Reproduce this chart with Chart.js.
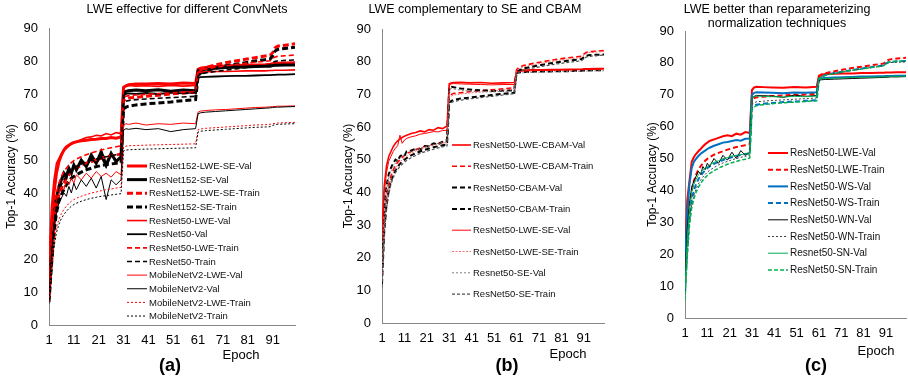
<!DOCTYPE html>
<html><head><meta charset="utf-8">
<script src="https://cdn.jsdelivr.net/npm/chart.js@4.4.1/dist/chart.umd.min.js"></script>
<style>
html,body{margin:0;padding:0;background:#fff;}
#wrap{position:relative;width:908px;height:378px;overflow:hidden;background:#fff;}
canvas{position:absolute;top:0;}
</style></head><body>
<div id="wrap">
<canvas id="ca" width="300" height="378" style="left:0px"></canvas>
<canvas id="cb" width="273" height="378" style="left:337px"></canvas>
<canvas id="cc" width="267" height="378" style="left:641px"></canvas>
</div>
<script>
// ---------- shared axes ----------
const EPOCHS = [1,2,3,4,5,6,7,8,9,10,11,12,14,16,18,20,22,24,26,28,30,
                31,32,33,36,40,45,50,55,60,
                61,62,64,68,72,76,80,84,88,90,
                91,92,93,96,100];
const X_TICKS = [1,11,21,31,41,51,61,71,81,91];
const Y_MIN = 0, Y_MAX = 90, Y_STEP = 10;

// ---------- panel (a) ----------
const A_TITLE = ['LWE effective for different ConvNets'];
const A_LABELS = ['ResNet152-LWE-SE-Val','ResNet152-SE-Val','ResNet152-LWE-SE-Train','ResNet152-SE-Train',
  'ResNet50-LWE-Val','ResNet50-Val','ResNet50-LWE-Train','ResNet50-Train',
  'MobileNetV2-LWE-Val','MobileNetV2-Val','MobileNetV2-LWE-Train','MobileNetV2-Train'];
const a_r152LweSeVal = [10,28,40,46,49.5,51.5,53,54,54.5,55,55.3,55.5,55.8,56,56.2,56.3,56.5,56.5,56.8,56.6,57,
  72,72.5,72.8,73,73,73.2,73,73.3,73.2,
  77.5,77.8,78,78.3,78.5,78.6,78.7,78.8,78.9,79,
  79.2,79.3,79.3,79.4,79.5];
const a_r152SeVal = [9,22,32,38,42,44,46,45,47.5,46,48.5,47,50,48,51.5,49,52.5,48.5,52,49.5,51,
  70,70.8,71,71.2,71,71.3,70.8,71.2,71,
  77,77.3,77.5,77.8,78,78.1,78.2,78.3,78.4,78.4,
  78.6,78.7,78.7,78.8,78.8];
const a_r152LweSeTrain = [8,20,30,36,39.5,41.5,43,44.5,45.5,46.5,47,47.5,48.5,49,49.5,50,50.5,51,51.2,51.5,51.8,
  68,68.5,68.8,69,69.3,69.6,70,70.3,70.5,
  76.5,77.3,78,78.8,79.5,80,80.5,81,81.5,81.7,
  82.5,84,84.5,84.8,85.2];
const a_r152SeTrain = [7,18,28,34,37.5,39.5,41,42.5,43.5,44.5,45,45.5,46.3,47,47.5,48,48.3,48.6,48.8,49,49.2,
  65.5,66,66.3,66.7,67,67.3,67.6,68,68.3,
  75.5,76.3,77,77.8,78.5,79,79.5,80,80.4,80.6,
  81.5,83,83.5,83.8,84.2];
const a_r50LweVal = [20,36,44,49,50.5,52,52.8,53.5,54.2,54.8,55.2,55.6,56.2,56.8,57,57.5,57.3,58,57.6,58.3,58,
  72,72.5,72.6,72.4,72.5,72.3,72.6,72.4,72.6,
  76.5,76.6,76.7,76.8,76.8,76.9,77,77,77,77.1,
  77.1,77.2,77.2,77.2,77.3];
const a_r50Val = [10,25,34,39,42,44,45.5,44.5,47,46,48.5,47,49.5,48,50.5,49,51,48,51.5,50,50.5,
  69.5,70,70.2,70,70.3,70,70.4,70.2,70.5,
  75,75.1,75.2,75.3,75.4,75.5,75.5,75.6,75.7,75.7,
  75.8,75.8,75.9,75.9,76];
const a_r50LweTrain = [9,25,35,40,43,45,46.5,47.5,48.5,49.2,49.8,50.3,51,51.6,52.1,52.6,53,53.4,53.7,54,54.3,
  69,69.3,69.5,69.7,69.9,70.1,70.3,70.5,70.7,
  76.5,77.2,77.6,78.1,78.5,78.9,79.3,79.6,79.9,80.1,
  80.8,81.2,81.4,81.6,81.8];
const a_r50Train = [8,22,32,37.5,40.5,42.5,44,45.2,46.2,47,47.6,48.1,48.8,49.4,49.9,50.3,50.7,51,51.3,51.6,51.8,
  67.5,67.8,68,68.3,68.5,68.7,68.9,69.1,69.3,
  75.5,76,76.4,76.8,77.2,77.6,78,78.3,78.6,78.8,
  79.5,79.9,80,80.2,80.3];
const a_mbLweVal = [11,27,34,38,40,42,41,43.5,42.5,44.5,43,45.5,44,46,44.5,46.5,45,46,44.8,46.5,45.5,
  60.5,61,60.8,61.2,60.6,61,60.8,61.2,61,
  64.5,64.8,65,65.2,65.3,65.5,65.7,65.9,66,66.1,
  66.2,66.2,66.3,66.3,66.4];
const a_mbVal = [8,22,30,34,37,38.5,40,39,42,40,43,41,44,42,44.5,41.5,45,38,44,42.5,44,
  59,59.5,59.3,59.6,59.2,59.5,58.6,59.2,59.5,
  64,64.3,64.5,64.7,64.9,65.1,65.3,65.5,65.7,65.8,
  65.9,66,66,66.1,66.2];
const a_mbLweTrain = [7,17,25,29.5,32,33.8,35,36,36.8,37.5,38,38.4,39,39.5,40,40.3,40.7,41,41.2,41.5,41.7,
  54,54.2,54.3,54.4,54.5,54.6,54.7,54.8,54.9,
  59.2,59.4,59.6,59.8,60,60.2,60.4,60.6,60.7,60.8,
  61,61.1,61.2,61.3,61.4];
const a_mbTrain = [6.5,16,23.5,28,30.5,32.3,33.5,34.5,35.3,36,36.5,36.9,37.5,38,38.4,38.7,39,39.2,39.4,39.6,39.8,
  52.8,53,53.1,53.2,53.3,53.4,53.5,53.6,53.7,
  58.5,58.7,58.9,59.1,59.3,59.5,59.7,59.9,60,60.1,
  60.5,60.7,60.8,60.9,61];

// ---------- panel (b) ----------
const B_TITLE = ['LWE complementary to SE and CBAM'];
const B_LABELS = ['ResNet50-LWE-CBAM-Val','ResNet50-LWE-CBAM-Train','ResNet50-CBAM-Val','ResNet50-CBAM-Train',
  'ResNet50-LWE-SE-Val','ResNet50-LWE-SE-Train','Resnet50-SE-Val','ResNet50-SE-Train'];
const b_lweCbamVal = [28,42,48,51,52.5,54,55,55.8,56.3,56.8,57.2,57.5,58,58.3,58.8,58.5,59.2,59,59.8,59.5,60.3,
  73.2,73.5,73.6,73.7,73.5,73.6,73.4,73.5,73.6,
  77,77.3,77.4,77.5,77.5,77.6,77.6,77.7,77.7,77.7,
  77.8,77.8,77.8,77.9,77.9];
const b_lweCbamTrain = [15,30,38,42.5,45,46.8,48.2,49.2,50,50.7,51.3,51.8,52.5,53.1,53.6,54,54.4,54.8,55.1,55.4,55.7,
  69.5,70,70.3,70.5,70.8,71.1,71.4,71.7,72,
  77.5,78.3,78.8,79.4,79.9,80.4,80.8,81.2,81.5,81.7,
  82.3,82.8,83,83.2,83.4];
const b_cbamVal = [18,35,42,45.5,47.5,49,50,49.5,51,51.5,51.2,52.5,52.8,53.3,53,54.2,54,55,54.6,55.5,56,
  72,72.3,72.2,71.8,71.5,71.2,71,71.1,71.3,
  76.5,76.7,76.8,76.9,77,77,77.1,77.1,77.2,77.2,
  77.3,77.3,77.3,77.4,77.4];
const b_cbamTrain = [12,28,36,40.5,43.5,45.3,46.8,47.8,48.7,49.4,50,50.5,51.3,52,52.5,53,53.4,53.8,54.1,54.4,54.7,
  67.5,68,68.3,68.7,69,69.4,69.8,70.2,70.5,
  76.5,77.3,77.9,78.5,79,79.5,79.9,80.3,80.6,80.8,
  81.3,81.8,82,82.1,82.2];
const b_lweSeVal = [25,40,46,49.5,51,52.5,53.5,54.3,57.5,55,56,56.5,57,57.3,57.8,58,58.3,58.6,58.5,58.9,59,
  73,73.2,73.3,73.2,73.1,73,72.9,73,73,
  76.8,77,77.1,77.2,77.3,77.3,77.4,77.4,77.5,77.5,
  77.5,77.6,77.6,77.6,77.7];
const b_lweSeTrain = [13,29,37,41.5,44,46,47.3,48.4,49.3,50,50.6,51.1,51.9,52.6,53.1,53.6,54,54.4,54.7,55,55.3,
  69,69.5,69.8,70.1,70.4,70.7,71,71.3,71.6,
  77,77.8,78.4,79,79.5,80,80.4,80.8,81.1,81.3,
  82,82.5,82.7,82.9,83.1];
const b_seVal = [16,33,41,44.5,46.5,48,49,50,50.5,51,51.5,52,52.5,53,53.5,53.8,54.3,54.6,55,55.2,55.5,
  71.5,71.8,71.6,71.3,71,70.8,70.7,70.9,71,
  76.3,76.5,76.6,76.7,76.8,76.9,76.9,77,77,77,
  77.1,77.1,77.2,77.2,77.2];
const b_seTrain = [11,27,35,39.5,42.5,44.5,46,47,47.9,48.6,49.2,49.8,50.6,51.3,51.9,52.4,52.8,53.2,53.6,53.9,54.2,
  67,67.5,67.8,68.2,68.6,69,69.4,69.8,70.2,
  76,76.8,77.4,78,78.5,79,79.4,79.8,80.1,80.3,
  80.9,81.4,81.6,81.8,82];

// ---------- panel (c) ----------
const C_TITLE = ['LWE better than reparameterizing','normalization techniques'];
const C_LABELS = ['ResNet50-LWE-Val','ResNet50-LWE-Train','ResNet50-WS-Val','ResNet50-WS-Train',
  'ResNet50-WN-Val','ResNet50-WN-Train','Resnet50-SN-Val','ResNet50-SN-Train'];
const c_lweVal = [20,37,43,49,50.5,51.5,52.3,53,53.8,54.5,55,55.5,56,56.5,57,57.3,57,57.8,57.5,58.3,58,
  71.5,72.3,72.5,72.4,72.3,72.2,72.4,72.3,72.5,
  76,76.3,76.5,76.6,76.7,76.7,76.8,76.8,76.9,76.9,
  77,77,77,77.1,77.1];
const c_lweTrain = [10,26,35,40,43,45,46.5,47.6,48.5,49.3,49.9,50.4,51.2,51.8,52.3,52.8,53.2,53.6,53.9,54.2,54.5,
  68.5,69,69.2,69.4,69.6,69.8,70,70.1,70.3,
  75.5,76.3,76.8,77.4,77.9,78.4,78.8,79.2,79.6,79.8,
  80.5,80.9,81.1,81.4,81.6];
const c_wsVal = [18,33,42,47,49,50,50.8,51.5,52,52.5,53,53.4,54,54.5,55,55.2,55.5,55.8,55.6,56.2,56.3,
  70,70.6,70.8,70.7,70.6,70.5,70.7,70.6,70.8,
  75,75.2,75.3,75.4,75.5,75.6,75.7,75.7,75.8,75.8,
  75.9,75.9,75.9,76,76];
const c_wsTrain = [8,22,32,37,40,42,43.5,44.6,45.5,46.3,47,47.5,48.3,49,49.5,50,50.4,50.8,51.1,51.4,51.7,
  66,66.6,66.9,67.2,67.4,67.7,67.9,68.1,68.3,
  75,75.7,76.2,76.8,77.3,77.8,78.2,78.6,79,79.2,
  79.8,80.2,80.3,80.5,80.6];
const c_wnVal = [12,28,36,41,43,44.5,46,45,47.5,46.5,48.5,47.5,50,48.5,51,49.5,52,50,52.5,51,52,
  69,69.5,69.8,69.7,69.6,69.2,69.9,69.5,69.8,
  74.5,74.7,74.8,74.9,75,75.1,75.2,75.3,75.4,75.4,
  75.5,75.5,75.6,75.6,75.7];
const c_wnTrain = [6,20,30,35.5,38.5,40.5,42,43.2,44.2,45,45.7,46.3,47.2,48,48.6,49.1,49.6,50,50.4,50.7,51,
  67,67.5,67.8,68,68.2,68.4,68.6,68.8,69,
  75,75.7,76.2,76.8,77.3,77.7,78.1,78.5,78.9,79.1,
  79.7,80,80.1,80.2,80.3];
const c_snVal = [10,25,34,39.5,42,43.5,45,45.5,46.5,47,47.5,48,48.8,49.3,50,50.3,50.8,51,51.2,51.5,51.3,
  69,69.4,69.6,69.5,69.4,69.3,69.5,69.4,69.6,
  74.8,75,75.1,75.2,75.3,75.4,75.5,75.5,75.6,75.6,
  75.7,75.7,75.8,75.8,75.8];
const c_snTrain = [5.5,19,29,34.5,37.5,39.5,41,42.2,43.2,44,44.7,45.3,46.2,47,47.6,48.2,48.7,49.1,49.5,49.8,50.2,
  65.5,66.2,66.6,66.9,67.2,67.5,67.7,67.9,68.1,
  75,75.6,76.1,76.7,77.2,77.7,78.1,78.5,78.9,79.1,
  79.8,80.1,80.3,80.5,80.6];

// ---------- styles ----------
const RED='#ff0000', BLK='#000000', BLUE='#0070c0', GREEN='#00b050';
const FONT='"Liberation Sans", Arial, Helvetica, sans-serif';

const A_STYLES = [
  {c:RED,w:3,d:[]},{c:BLK,w:3,d:[]},{c:RED,w:3,d:[6,3]},{c:BLK,w:3,d:[6,3]},
  {c:RED,w:1.6,d:[]},{c:BLK,w:1.8,d:[]},{c:RED,w:1.6,d:[5,3]},{c:BLK,w:1.6,d:[5,3]},
  {c:RED,w:1,d:[]},{c:BLK,w:1,d:[]},{c:RED,w:1,d:[2,2]},{c:BLK,w:1,d:[2,2]}
];
const B_STYLES = [
  {c:RED,w:1.6,d:[]},{c:RED,w:1.6,d:[5,3]},{c:BLK,w:2,d:[5,3]},{c:BLK,w:2,d:[5,3]},
  {c:RED,w:1,d:[]},{c:'#f07070',w:1,d:[2,1.5]},{c:'#7f7f7f',w:1,d:[2,2]},{c:'#505050',w:1.2,d:[3,2]}
];
const C_STYLES = [
  {c:RED,w:2,d:[]},{c:RED,w:2,d:[5,3]},{c:BLUE,w:2,d:[]},{c:BLUE,w:2,d:[5,3]},
  {c:BLK,w:1,d:[]},{c:'#404040',w:1,d:[2,2]},{c:GREEN,w:1,d:[]},{c:GREEN,w:1.5,d:[4,2]}
];

function toPoints(vals){ return vals.map((v,i)=>({x:EPOCHS[i], y:v})); }

function buildDatasets(labels, seriesList, styles){
  return seriesList.map((vals,i)=>({
    label: labels[i],
    data: toPoints(vals),
    borderColor: styles[i].c,
    borderWidth: styles[i].w,
    borderDash: styles[i].d,
    pointRadius: 0,
    tension: 0,
    fill: false,
    order: -i
  }));
}

const decor = {
  id: 'decor',
  afterDraw(chart, args, o){
    const ctx = chart.ctx;
    ctx.save();
    ctx.fillStyle = '#000';
    ctx.textAlign = 'center';
    ctx.textBaseline = 'middle';
    ctx.font = '12.5px ' + FONT;
    o.title.forEach((t,i)=>ctx.fillText(t, o.titleX, o.titleY + i*13.5));
    ctx.font = '13px ' + FONT;
    ctx.fillText('Epoch', o.epochX, o.epochY);
    ctx.font = 'bold 18px ' + FONT;
    ctx.fillText(o.tag, o.tagX, o.tagY);
    ctx.font = o.legFont + 'px ' + FONT;
    ctx.textAlign = 'left';
    chart.data.datasets.forEach((ds,i)=>{
      const y = o.legY + i*o.legDy;
      ctx.beginPath();
      ctx.strokeStyle = ds.borderColor;
      ctx.lineWidth = ds.borderWidth;
      ctx.setLineDash(ds.borderDash || []);
      ctx.moveTo(o.legX1, y); ctx.lineTo(o.legX2, y);
      ctx.stroke();
      ctx.setLineDash([]);
      ctx.fillStyle = '#111';
      ctx.fillText(ds.label, o.legTX, y + 0.5);
    });
    ctx.restore();
  }
};

function makeChart(id, datasets, box, dec){
  const cv = document.getElementById(id);
  return new Chart(cv, {
    type: 'line',
    data: { datasets },
    plugins: [decor],
    options: {
      responsive: false,
      animation: false,
      devicePixelRatio: 1,
      layout: { padding: { left: 0, top: box.top, right: cv.width - box.right, bottom: 0 } },
      plugins: { legend: {display:false}, tooltip: {enabled:false}, title:{display:false}, decor: dec },
      scales: {
        x: {
          type: 'linear', min: 1, max: 100, offset: false,
          grid: { display: false, drawTicks: false },
          border: { display: true, color: '#888', width: 1 },
          afterBuildTicks: s => { s.ticks = X_TICKS.map(v=>({value:v})); },
          afterFit: s => { s.height = cv.height - box.bottom; },
          ticks: { autoSkip: false, maxRotation: 0, padding: 8, color: '#000',
                   font: { family: FONT, size: 13 }, callback: v => String(v) }
        },
        y: {
          min: Y_MIN, max: Y_MAX,
          grid: { display: false, drawTicks: false },
          border: { display: true, color: '#888', width: 1 },
          afterFit: s => { s.width = box.left; },
          ticks: { stepSize: Y_STEP, padding: 11, color: '#000', font: { family: FONT, size: 13 } },
          title: { display: true, text: 'Top-1 Accuracy (%)', color: '#000',
                   font: { family: FONT, size: 12 }, padding: { top: 4, bottom: 0 } }
        }
      }
    }
  });
}

makeChart('ca',
  buildDatasets(A_LABELS, [a_r152LweSeVal,a_r152SeVal,a_r152LweSeTrain,a_r152SeTrain,a_r50LweVal,a_r50Val,
    a_r50LweTrain,a_r50Train,a_mbLweVal,a_mbVal,a_mbLweTrain,a_mbTrain], A_STYLES),
  {left:49, right:295, top:28, bottom:325},
  {title:A_TITLE, titleX:187, titleY:10, epochX:241, epochY:355, tag:'(a)', tagX:170, tagY:366,
   legX1:127, legX2:147, legTX:149, legY:166, legDy:13.64, legFont:9.5});

makeChart('cb',
  buildDatasets(B_LABELS, [b_lweCbamVal,b_lweCbamTrain,b_cbamVal,b_cbamTrain,b_lweSeVal,b_lweSeTrain,b_seVal,b_seTrain], B_STYLES),
  {left:45, right:267, top:29, bottom:323},
  {title:B_TITLE, titleX:138, titleY:10, epochX:231, epochY:354, tag:'(b)', tagX:170, tagY:366,
   legX1:115, legX2:134, legTX:136, legY:145, legDy:21.3, legFont:9.5});

makeChart('cc',
  buildDatasets(C_LABELS, [c_lweVal,c_lweTrain,c_wsVal,c_wsTrain,c_wnVal,c_wnTrain,c_snVal,c_snTrain], C_STYLES),
  {left:44, right:265, top:31, bottom:318},
  {title:C_TITLE, titleX:136, titleY:10, epochX:235, epochY:351, tag:'(c)', tagX:175, tagY:366,
   legX1:127, legX2:147, legTX:149, legY:153, legDy:16.7, legFont:10});
</script>
</body></html>
